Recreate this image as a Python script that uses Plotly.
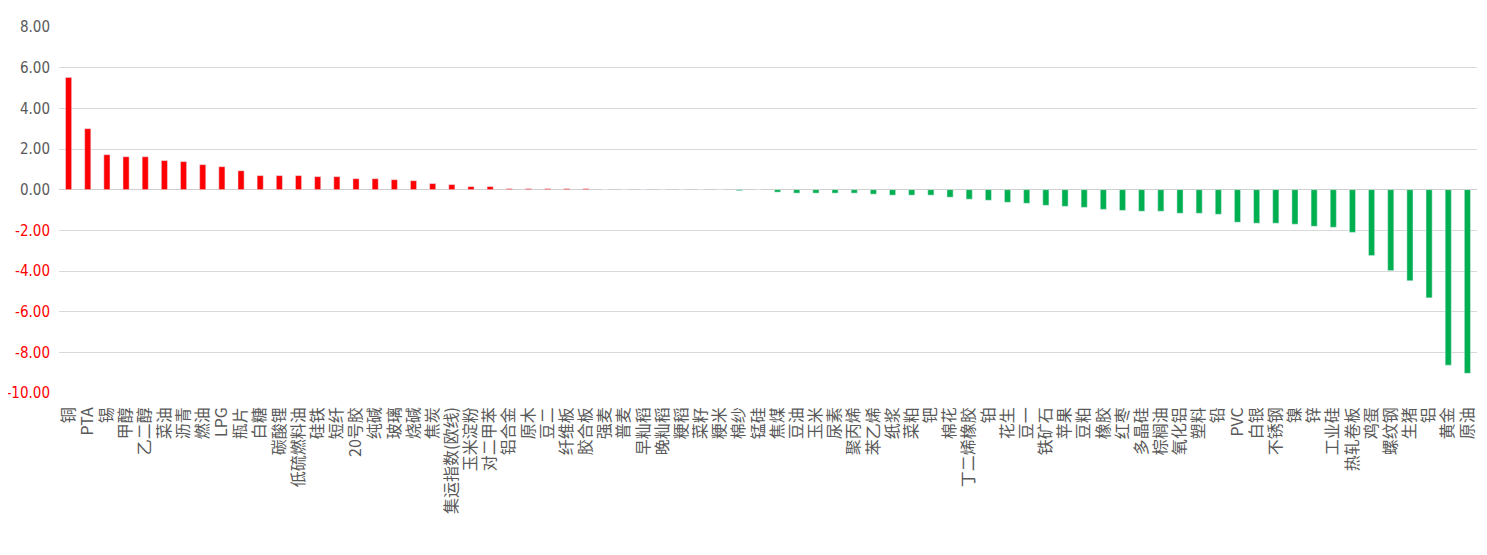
import plotly.graph_objects as go

# 品种涨跌幅(%)
categories = [
    "铜", "PTA", "锡", "甲醇", "乙二醇", "菜油", "沥青", "燃油", "LPG", "瓶片",
    "白糖", "碳酸锂", "低硫燃料油", "硅铁", "短纤", "20号胶", "纯碱", "玻璃", "烧碱", "焦炭",
    "集运指数(欧线)", "玉米淀粉", "对二甲苯", "铝合金", "原木", "豆二", "纤维板", "胶合板", "强麦", "普麦",
    "早籼稻", "晚籼稻", "粳稻", "菜籽", "粳米", "棉纱", "锰硅", "焦煤", "豆油", "玉米",
    "尿素", "聚丙烯", "苯乙烯", "纸浆", "菜粕", "钯", "棉花", "丁二烯橡胶", "铂", "花生",
    "豆一", "铁矿石", "苹果", "豆粕", "橡胶", "红枣", "多晶硅", "棕榈油", "氧化铝", "塑料",
    "铅", "PVC", "白银", "不锈钢", "镍", "锌", "工业硅", "热轧卷板", "鸡蛋", "螺纹钢",
    "生猪", "铝", "黄金", "原油",
]
values = [
    5.52, 3.00, 1.72, 1.62, 1.62, 1.43, 1.38, 1.23, 1.13, 0.93,
    0.69, 0.69, 0.69, 0.64, 0.64, 0.54, 0.54, 0.49, 0.44, 0.30,
    0.25, 0.15, 0.15, 0.05, 0.05, 0.05, 0.05, 0.05, 0.00, 0.00,
    0.00, 0.00, 0.00, 0.00, 0.00, -0.05, 0.00, -0.12, -0.17, -0.17,
    -0.17, -0.17, -0.22, -0.27, -0.27, -0.27, -0.37, -0.47, -0.52, -0.62,
    -0.67, -0.77, -0.82, -0.87, -0.97, -1.02, -1.06, -1.06, -1.16, -1.16,
    -1.21, -1.60, -1.65, -1.65, -1.70, -1.80, -1.85, -2.10, -3.24, -3.98,
    -4.48, -5.32, -8.63, -9.03,
]
y_ticks = [8, 6, 4, 2, 0, -2, -4, -6, -8, -10]

UP = "#FF0000"
DOWN = "#00B050"
GREY = "#595959"

colors = [UP if v > 0 else DOWN for v in values]

fig = go.Figure(go.Bar(x=categories, y=values, marker_color=colors, width=0.32))

# y tick labels: negatives in red
tick_text = []
for t in y_ticks:
    c = UP if t < 0 else GREY
    tick_text.append(f'<span style="color:{c}">{t:.2f}</span>')

# page body has an 8px margin, so the figure is sized to fit inside it
fig.update_layout(
    width=1471,
    height=539,
    margin=dict(l=51, r=2, t=19, b=154),
    plot_bgcolor="white",
    paper_bgcolor="white",
    showlegend=False,
    bargap=0.68,
)

fig.update_xaxes(
    type="category",
    tickmode="linear",
    tick0=0,
    dtick=1,
    tickangle=-90,
    showgrid=False,
    showline=False,
    ticks="",
    ticklabelstandoff=10,
    automargin=False,
    tickfont=dict(family="Noto Sans CJK SC", size=16, color=GREY),
)

fig.update_yaxes(
    range=[-10, 8],
    tickvals=y_ticks,
    ticktext=tick_text,
    showgrid=True,
    gridcolor="#d9d9d9",
    gridwidth=1,
    zeroline=True,
    zerolinecolor="#cfcfcf",
    zerolinewidth=1,
    ticks="",
    ticklabelstandoff=8,
    automargin=False,
    tickfont=dict(family="Liberation Sans Narrow, DejaVu Sans Condensed, Liberation Sans, sans-serif",
                  size=15, color=GREY),
)

fig.write_html("out.html")
